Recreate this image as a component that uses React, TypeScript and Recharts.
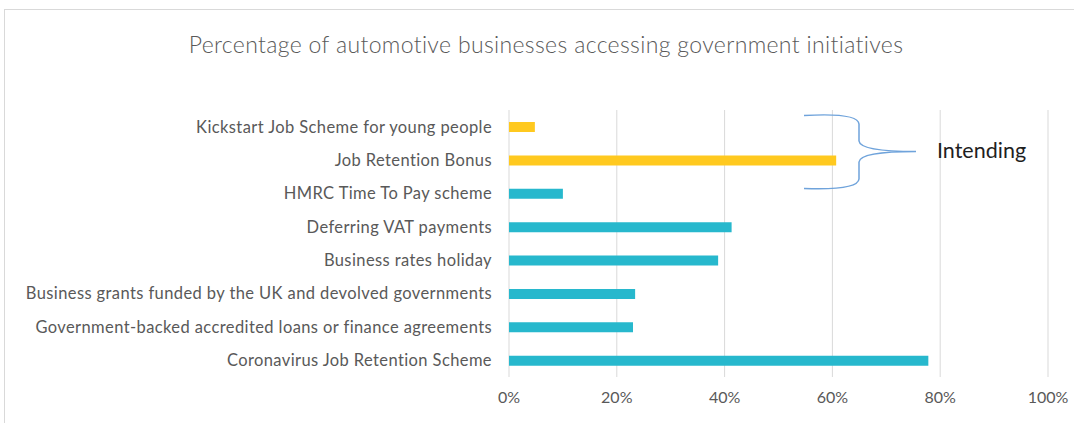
import React from "react";
import { BarChart, Bar, XAxis, YAxis, CartesianGrid, Cell } from "recharts";

const CATEGORIES = [
  "Kickstart Job Scheme for young people",
  "Job Retention Bonus",
  "HMRC Time To Pay scheme",
  "Deferring VAT payments",
  "Business rates holiday",
  "Business grants funded by the UK and devolved governments",
  "Government-backed accredited loans or finance agreements",
  "Coronavirus Job Retention Scheme",
];
const SHARES = [0.048, 0.607, 0.1, 0.413, 0.388, 0.234, 0.23, 0.778];
const GROUPS = [
  "Intending",
  "Intending",
  "Accessed",
  "Accessed",
  "Accessed",
  "Accessed",
  "Accessed",
  "Accessed",
];
const X_TICKS = [0, 0.2, 0.4, 0.6, 0.8, 1];

const TITLE = "Percentage of automotive businesses accessing government initiatives";
const ANNOTATION = "Intending";

const FONT = "Lato, 'Open Sans', sans-serif";
const GROUP_COLORS: Record<string, string> = {
  Intending: "#FFC91F",
  Accessed: "#27B8CD",
};

const data = CATEGORIES.map((name, i) => ({
  name,
  value: SHARES[i],
  group: GROUPS[i],
}));

const W = 1074;
const H = 423;

export default function App() {
  return (
    <div
      style={{
        position: "relative",
        width: W,
        height: H,
        overflow: "hidden",
        background: "#fff",
        fontFamily: FONT,
      }}
    >
      <style>{"body{margin:0}"}</style>
      {/* chart frame */}
      <div
        style={{
          position: "absolute",
          left: 4,
          top: 9,
          width: W + 20,
          height: H + 20,
          border: "1px solid #d9d9d9",
          boxSizing: "border-box",
        }}
      />
      <div
        style={{
          position: "absolute",
          top: 29,
          left: 0,
          width: 1092,
          textAlign: "center",
          fontSize: 23,
          letterSpacing: 0.35,
          color: "#595959",
          fontWeight: 300,
          lineHeight: "30px",
        }}
      >
        {TITLE}
      </div>
      <div style={{ position: "absolute", left: 0, top: 0 }}>
        <BarChart
          width={W}
          height={H}
          data={data}
          layout="vertical"
          margin={{ top: 110, right: 26, bottom: 16, left: 0 }}
          barCategoryGap={0}
        >
          <CartesianGrid horizontal={false} stroke="#d9d9d9" strokeWidth={1} />
          <XAxis
            type="number"
            domain={[0, 1]}
            ticks={X_TICKS}
            tickFormatter={(v: number) => `${Math.round(v * 100)}%`}
            axisLine={false}
            tickLine={false}
            tickSize={0}
            tickMargin={15}
            height={30}
            interval={0}
            tick={{ fill: "#595959", fontSize: 16, fontFamily: FONT }}
          />
          <YAxis
            type="category"
            dataKey="name"
            width={509}
            axisLine={false}
            tickLine={false}
            tickSize={0}
            tickMargin={17}
            interval={0}
            tick={{
              fill: "#595959",
              fontSize: 16.5,
              fontFamily: FONT,
              letterSpacing: 0.4,
            }}
          />
          <Bar dataKey="value" barSize={10} isAnimationActive={false}>
            {data.map((d, i) => (
              <Cell key={i} fill={GROUP_COLORS[d.group]} />
            ))}
          </Bar>
        </BarChart>
      </div>
      {/* brace annotation */}
      <svg
        width={W}
        height={H}
        style={{ position: "absolute", left: 0, top: 0, pointerEvents: "none" }}
      >
        <path
          d="M804 115.5 Q858 112.5 859 124 L859 141 Q860 151.5 916 151.5 Q860 151.5 859 162 L859 179 Q858 190.5 804 188.5"
          fill="none"
          stroke="#6FA3DB"
          strokeWidth={1.5}
        />
        <text x={937} y={158} fontSize={21.5} fill="#1f1f1f" fontFamily={FONT}>
          {ANNOTATION}
        </text>
      </svg>
    </div>
  );
}
